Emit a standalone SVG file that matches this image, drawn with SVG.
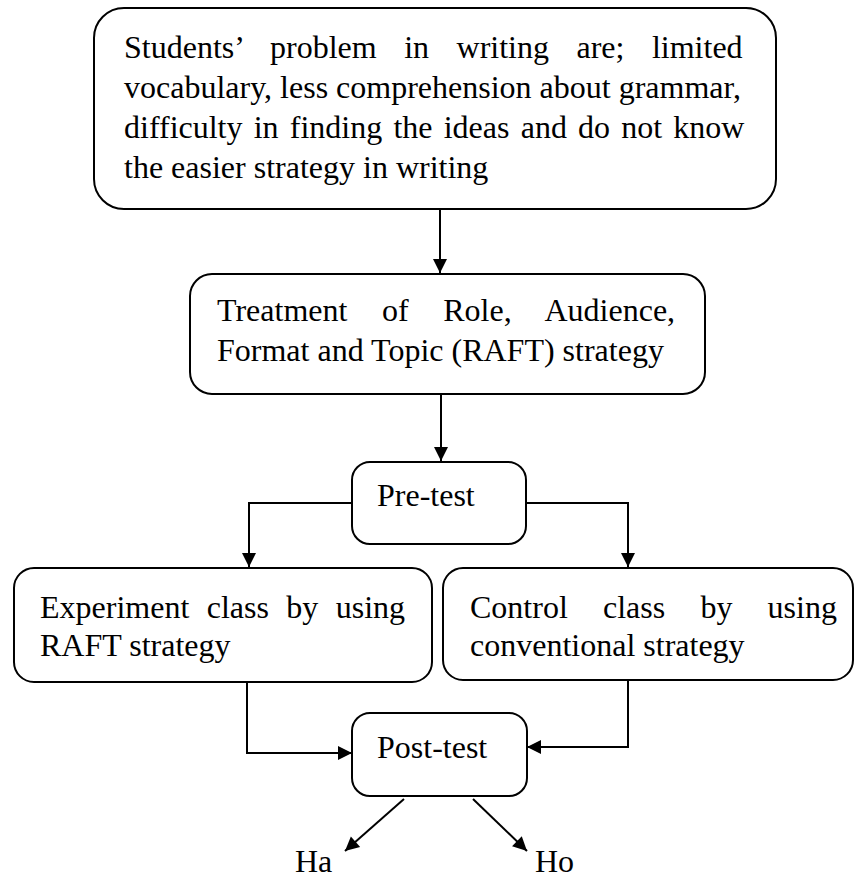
<svg xmlns="http://www.w3.org/2000/svg" width="855" height="881" viewBox="0 0 855 881">
<style>
  .box { fill: #ffffff; stroke: #000000; stroke-width: 2; }
  .lbl { font-family: "Liberation Serif", "Times New Roman", serif; font-size: 32px; fill: #000000; }
  .conn { fill: none; stroke: #000000; stroke-width: 2; }
</style>
<defs>
  <marker id="ah" markerUnits="userSpaceOnUse" markerWidth="16" markerHeight="16" viewBox="0 0 16 16" refX="15" refY="8" orient="auto">
    <path d="M1,1 L15,8 L1,15 Z" fill="#000000"/>
  </marker>
</defs>
<rect width="855" height="881" fill="#ffffff"/>

<g id="connectors">
  <path class="conn" d="M440,209 L440,273" marker-end="url(#ah)"/>
  <path class="conn" d="M441,394 L441,461" marker-end="url(#ah)"/>
  <path class="conn" d="M352,503 L249,503 L249,567" marker-end="url(#ah)"/>
  <path class="conn" d="M526,503 L628,503 L628,567" marker-end="url(#ah)"/>
  <path class="conn" d="M247,682 L247,753 L352,753" marker-end="url(#ah)"/>
  <path class="conn" d="M628,680 L628,747 L527,747" marker-end="url(#ah)"/>
  <path class="conn" d="M404,799 L345,851" marker-end="url(#ah)"/>
  <path class="conn" d="M473,799 L527,851" marker-end="url(#ah)"/>
</g>

<g id="problem">
  <rect class="box" x="94" y="8" width="682" height="201" rx="30" ry="30"/>
  <text class="lbl">
    <tspan x="124" y="58" word-spacing="19.5">Students’ problem in writing are; limited</tspan>
    <tspan x="124" y="98">vocabulary, less comprehension about grammar,</tspan>
    <tspan x="124" y="138" word-spacing="3.2">difficulty in finding the ideas and do not know</tspan>
    <tspan x="124" y="178">the easier strategy in writing</tspan>
  </text>
</g>

<g id="treatment">
  <rect class="box" x="190" y="274" width="515" height="120" rx="22" ry="22"/>
  <text class="lbl">
    <tspan x="217" y="321" word-spacing="26.6">Treatment of Role, Audience,</tspan>
    <tspan x="217" y="361">Format and Topic (RAFT) strategy</tspan>
  </text>
</g>

<g id="pretest">
  <rect class="box" x="352" y="462" width="174" height="82" rx="18" ry="18"/>
  <text class="lbl" x="377" y="506">Pre-test</text>
</g>

<g id="experiment">
  <rect class="box" x="14" y="568" width="418" height="114" rx="20" ry="20"/>
  <text class="lbl">
    <tspan x="40" y="618" word-spacing="9.4">Experiment class by using</tspan>
    <tspan x="40" y="656">RAFT strategy</tspan>
  </text>
</g>

<g id="control">
  <rect class="box" x="443" y="568" width="410" height="112" rx="20" ry="20"/>
  <text class="lbl">
    <tspan x="470" y="618" word-spacing="27.2">Control class by using</tspan>
    <tspan x="470" y="656">conventional strategy</tspan>
  </text>
</g>

<g id="posttest">
  <rect class="box" x="352" y="713" width="175" height="83" rx="18" ry="18"/>
  <text class="lbl" x="377" y="758">Post-test</text>
</g>

<g id="ha">
  <text class="lbl" x="295" y="872">Ha</text>
</g>

<g id="ho">
  <text class="lbl" x="535" y="872">Ho</text>
</g>
</svg>
